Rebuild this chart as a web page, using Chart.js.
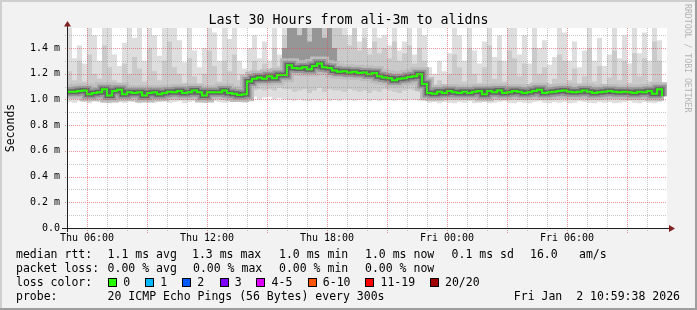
<!DOCTYPE html>
<html><head><meta charset="utf-8">
<script src="https://cdn.jsdelivr.net/npm/chart.js@4.4.1/dist/chart.umd.min.js"></script>
<style>
html,body{margin:0;padding:0;background:#f2f2f2;}
#wrap{position:relative;width:697px;height:310px;background:#f2f2f2;overflow:hidden;}
#c{position:absolute;left:0;top:0;}
.t{position:absolute;font-family:"DejaVu Sans Mono",monospace;font-size:11.5px;line-height:14px;color:#000;white-space:pre;}
.box{position:absolute;width:9px;height:9px;border:1px solid #000;box-sizing:border-box;top:278px;}
.fr{position:absolute;}
#wm{position:absolute;left:683px;top:4px;writing-mode:vertical-rl;font-family:"DejaVu Sans Mono",monospace;font-size:8.2px;line-height:10px;color:#b4b4b4;white-space:pre;}
</style>
</head><body>
<div id="wrap">
<canvas id="c" width="697" height="310"></canvas>
<div class="fr" style="left:0;top:0;width:697px;height:2px;background:#cfcfcf"></div>
<div class="fr" style="left:0;top:0;width:2px;height:310px;background:#cfcfcf"></div>
<div class="fr" style="left:695px;top:0;width:2px;height:310px;background:#9e9e9e"></div>
<div class="fr" style="left:0;top:308px;width:697px;height:2px;background:#9e9e9e"></div>
<div id="wm">RRDTOOL / TOBI OETIKER</div>

<div class="t" style="left:16px;top:247px">median rtt:</div>
<div class="t" style="left:107.6px;top:247px">1.1 ms avg</div>
<div class="t" style="left:192px;top:247px">1.3 ms max</div>
<div class="t" style="left:279px;top:247px">1.0 ms min</div>
<div class="t" style="left:365px;top:247px">1.0 ms now</div>
<div class="t" style="left:451.6px;top:247px">0.1 ms sd</div>
<div class="t" style="left:530px;top:247px">16.0</div>
<div class="t" style="left:579px;top:247px">am/s</div>

<div class="t" style="left:16px;top:261px">packet loss:</div>
<div class="t" style="left:107.6px;top:261px">0.00 % avg</div>
<div class="t" style="left:193px;top:261px">0.00 % max</div>
<div class="t" style="left:279px;top:261px">0.00 % min</div>
<div class="t" style="left:365px;top:261px">0.00 % now</div>

<div class="t" style="left:16px;top:275px">loss color:</div>
<div id="lossItems"></div>

<div class="t" style="left:16px;top:289px">probe:</div>
<div class="t" style="left:107.6px;top:289px">20 ICMP Echo Pings (56 Bytes) every 300s</div>
<div class="t" style="right:17px;top:289px">Fri Jan  2 10:59:38 2026</div>
</div>
<script>
// ---- data ----
const stepHours = 0.25; // one sample every 15 minutes, starting Thu 05:00
const tickHours = [1, 7, 13, 19, 25];
const tickLabels = ['Thu 06:00', 'Thu 12:00', 'Thu 18:00', 'Fri 00:00', 'Fri 06:00'];
const yTickLabels = ['0.0', '0.2 m', '0.4 m', '0.6 m', '0.8 m', '1.0 m', '1.2 m', '1.4 m'];

const median = [
 1.06, 1.06, 1.065, 1.07, 1.04, 1.05, 1.055, 1.08, 1.03, 1.065,
 1.075, 1.04, 1.055, 1.05, 1.055, 1.03, 1.05, 1.055, 1.04, 1.05,
 1.06, 1.055, 1.065, 1.05, 1.055, 1.07, 1.055, 1.03, 1.055, 1.055,
 1.055, 1.07, 1.05, 1.045, 1.035, 1.04, 1.14, 1.16, 1.17, 1.16,
 1.18, 1.165, 1.19, 1.19, 1.265, 1.245, 1.24, 1.25, 1.235, 1.26,
 1.28, 1.25, 1.245, 1.225, 1.215, 1.22, 1.21, 1.215, 1.205, 1.21,
 1.195, 1.205, 1.18, 1.17, 1.165, 1.15, 1.16, 1.165, 1.175, 1.18,
 1.195, 1.12, 1.05, 1.045, 1.06, 1.05, 1.065, 1.055, 1.05, 1.06,
 1.05, 1.06, 1.065, 1.04, 1.065, 1.055, 1.07, 1.05, 1.055, 1.065,
 1.06, 1.05, 1.055, 1.065, 1.075, 1.05, 1.055, 1.06, 1.065, 1.07,
 1.06, 1.055, 1.06, 1.07, 1.06, 1.05, 1.055, 1.06, 1.065, 1.06,
 1.055, 1.06, 1.055, 1.05, 1.06, 1.055, 1.065, 1.045, 1.08, 1.025
];
const smokeMax = [
 1.555, 1.32, 1.42, 1.28, 1.555, 1.5, 1.3, 1.555, 1.555, 1.35,
 1.26, 1.44, 1.555, 1.48, 1.555, 1.3, 1.555, 1.5, 1.34, 1.555,
 1.555, 1.555, 1.46, 1.29, 1.555, 1.38, 1.25, 1.4, 1.555, 1.52,
 1.3, 1.555, 1.47, 1.555, 1.3, 1.24, 1.4, 1.5, 1.32, 1.45,
 1.3, 1.555, 1.35, 1.555, 1.555, 1.555, 1.555, 1.555, 1.555, 1.555,
 1.555, 1.555, 1.555, 1.555, 1.555, 1.555, 1.5, 1.555, 1.45, 1.555,
 1.4, 1.555, 1.48, 1.5, 1.42, 1.555, 1.38, 1.45, 1.555, 1.35,
 1.555, 1.5, 1.25, 1.2, 1.3, 1.22, 1.36, 1.555, 1.5, 1.3,
 1.555, 1.38, 1.28, 1.45, 1.555, 1.33, 1.5, 1.3, 1.555, 1.555,
 1.35, 1.5, 1.28, 1.555, 1.4, 1.46, 1.27, 1.33, 1.555, 1.52,
 1.3, 1.45, 1.25, 1.38, 1.555, 1.3, 1.48, 1.26, 1.35, 1.555,
 1.32, 1.5, 1.28, 1.555, 1.36, 1.52, 1.3, 1.555, 1.46, 1.3
];
const smokeMin = [
 0.98, 0.975, 0.985, 0.98, 0.97, 0.985, 0.98, 0.975, 0.97, 0.985,
 0.98, 0.975, 0.985, 0.98, 0.97, 0.98, 0.985, 0.975, 0.98, 0.985,
 0.975, 0.98, 0.985, 0.97, 0.98, 0.985, 0.98, 0.975, 0.98, 0.985,
 0.98, 0.975, 0.98, 0.985, 0.98, 0.975, 1.01, 1.02, 1.0, 1.015,
 1.02, 1.0, 1.01, 1.0, 0.995, 0.99, 1.0, 0.99, 0.985, 0.995,
 0.99, 1.0, 0.99, 0.995, 0.99, 1.0, 0.995, 0.99, 0.995, 1.0,
 0.99, 0.995, 0.99, 1.0, 0.995, 0.99, 0.995, 0.99, 1.0, 0.995,
 0.99, 0.985, 0.975, 0.98, 0.97, 0.98, 0.975, 0.97, 0.98, 0.975,
 0.985, 0.97, 0.975, 0.98, 0.97, 0.975, 0.98, 0.985, 0.975, 0.97,
 0.98, 0.975, 0.97, 0.98, 0.985, 0.975, 0.97, 0.98, 0.975, 0.98,
 0.97, 0.975, 0.985, 0.98, 0.975, 0.97, 0.98, 0.975, 0.98, 0.97,
 0.975, 0.98, 0.985, 0.975, 0.97, 0.98, 0.975, 0.97, 0.98, 0.975
];
const smokeHigh = [
 1.22, 1.15, 1.3, 1.14, 1.35, 1.2, 1.16, 1.42, 1.25, 1.15,
 1.13, 1.28, 1.2, 1.33, 1.24, 1.14, 1.4, 1.22, 1.15, 1.3,
 1.45, 1.25, 1.2, 1.13, 1.32, 1.18, 1.12, 1.2, 1.38, 1.26,
 1.14, 1.3, 1.22, 1.35, 1.15, 1.12, 1.22, 1.3, 1.22, 1.28,
 1.24, 1.4, 1.26, 1.5, 1.555, 1.555, 1.555, 1.555, 1.555, 1.555,
 1.555, 1.555, 1.555, 1.555, 1.555, 1.5, 1.42, 1.555, 1.38, 1.48,
 1.35, 1.45, 1.36, 1.4, 1.32, 1.45, 1.3, 1.36, 1.42, 1.28,
 1.4, 1.3, 1.12, 1.1, 1.15, 1.11, 1.2, 1.35, 1.25, 1.14,
 1.4, 1.2, 1.13, 1.25, 1.42, 1.16, 1.3, 1.14, 1.38, 1.32,
 1.18, 1.28, 1.12, 1.4, 1.2, 1.25, 1.12, 1.16, 1.35, 1.3,
 1.15, 1.24, 1.12, 1.18, 1.4, 1.14, 1.26, 1.12, 1.17, 1.38,
 1.15, 1.3, 1.13, 1.36, 1.18, 1.32, 1.14, 1.45, 1.3, 1.15
];
const smokeLow = [
 1.01, 1.005, 1.015, 1.01, 1.0, 1.01, 1.015, 1.005, 1.0, 1.01,
 1.015, 1.005, 1.01, 1.01, 1.0, 1.005, 1.01, 1.015, 1.005, 1.01,
 1.0, 1.01, 1.015, 1.005, 1.01, 1.015, 1.01, 1.0, 1.01, 1.015,
 1.01, 1.005, 1.01, 1.015, 1.005, 1.0, 1.06, 1.07, 1.08, 1.07,
 1.08, 1.07, 1.09, 1.08, 1.08, 1.06, 1.07, 1.08, 1.05, 1.07,
 1.09, 1.06, 1.08, 1.07, 1.07, 1.06, 1.08, 1.07, 1.06, 1.07,
 1.05, 1.07, 1.06, 1.08, 1.07, 1.06, 1.05, 1.07, 1.08, 1.07,
 1.06, 1.04, 1.0, 1.005, 0.995, 1.0, 1.005, 1.0, 0.995, 1.005,
 1.0, 1.0, 0.995, 1.005, 1.0, 1.005, 1.0, 0.995, 1.0, 1.005,
 1.0, 1.0, 0.995, 1.005, 1.0, 1.0, 1.005, 0.995, 1.0, 1.005,
 1.0, 0.995, 1.0, 1.005, 1.0, 1.0, 0.995, 1.005, 1.0, 1.005,
 1.0, 0.995, 1.0, 1.0, 1.005, 1.0, 0.995, 1.005, 1.0, 0.99
];
// dark smoke reaching the top during the Thu afternoon period (samples 43..54)
const darkStart = 43;
const darkTop = [1.4, 1.555, 1.555, 1.5, 1.555, 1.45, 1.555, 1.555, 1.48, 1.555, 1.4, 1.3];

const lossLabels = ['0', '1', '2', '3', '4-5', '6-10', '11-19', '20/20'];
const lossColors = ['#26ff00', '#00b8ff', '#0059ff', '#7e00ff', '#dd00ff', '#ff5500', '#ff0000', '#a10000'];
const lossBoxX = [108, 145, 182, 219.6, 256.4, 307.6, 365.3, 429.8];

// ---- legend boxes ----
const li = document.getElementById('lossItems');
lossLabels.forEach((lab, k) => {
  const b = document.createElement('div');
  b.className = 'box'; b.style.left = lossBoxX[k] + 'px'; b.style.background = lossColors[k];
  li.appendChild(b);
  const t = document.createElement('div');
  t.className = 't'; t.style.left = (lossBoxX[k] + 15.2) + 'px'; t.style.top = '275px'; t.textContent = lab;
  li.appendChild(t);
});

// ---- chart ----
const pts = (arr, start = 0) => arr.map((v, i) => ({x: (i + start) * stepHours, y: v}));
const FONT = 'DejaVu Sans Mono';
Chart.defaults.font.family = FONT;
const GRID_MINOR = 'rgba(143,143,143,0.5)';
const GRID_MAJOR = 'rgba(222,79,79,0.6)';

const base = {pointRadius: 0, stepped: true, tension: 0, clip: 0, borderWidth: 0, borderColor: 'transparent', fill: false};

// white canvas + dotted RRD-style grid drawn at the library's tick positions
const gridPlugin = {
  id: 'rrdGrid',
  beforeDraw(chart) {
    const {ctx, chartArea: a} = chart;
    ctx.save();
    ctx.fillStyle = '#ffffff';
    ctx.fillRect(a.left, a.top, a.right - a.left, a.bottom - a.top);
    ctx.restore();
  },
  afterDatasetsDraw(chart) {
    const {ctx, chartArea: a, scales: {x, y}} = chart;
    const top = Math.round(a.top), bottom = Math.round(a.bottom);
    const left = Math.round(a.left), right = Math.round(a.right);
    ctx.save();
    x.ticks.forEach(t => {
      const h = Math.round(t.value);
      if (h <= 0 || h >= 30) return;
      const px = Math.round(x.getPixelForValue(t.value));
      const major = (h - 1) % 3 === 0;
      ctx.fillStyle = major ? GRID_MAJOR : GRID_MINOR;
      for (let yy = top; yy < bottom + (major ? 5 : 3); yy += 2) ctx.fillRect(px, yy, 1, 1);
    });
    y.ticks.forEach(t => {
      const k = Math.round(t.value * 10);
      if (k === 0) return;
      const py = Math.round(y.getPixelForValue(t.value));
      ctx.fillStyle = k % 2 ? GRID_MINOR : GRID_MAJOR;
      for (let xx = left - 2; xx < right; xx += 2) ctx.fillRect(xx, py, 1, 1);
    });
    ctx.restore();
  }
};

const axesPlugin = {
  id: 'rrdAxes',
  afterDraw(chart) {
    const {ctx, chartArea: a} = chart;
    ctx.save();
    ctx.strokeStyle = 'rgb(31,31,31)';
    ctx.lineWidth = 1;
    ctx.beginPath();
    ctx.moveTo(a.left - 5, a.bottom + 0.5);
    ctx.lineTo(a.right + 3, a.bottom + 0.5);
    ctx.moveTo(a.left + 0.5, a.bottom + 4);
    ctx.lineTo(a.left + 0.5, a.top - 3);
    ctx.stroke();
    ctx.fillStyle = 'rgb(128,31,31)';
    ctx.beginPath();
    ctx.moveTo(a.left + 0.5, a.top - 7);
    ctx.lineTo(a.left - 3, a.top - 1.5);
    ctx.lineTo(a.left + 4, a.top - 1.5);
    ctx.closePath(); ctx.fill();
    ctx.beginPath();
    ctx.moveTo(a.right + 8, a.bottom + 0.5);
    ctx.lineTo(a.right + 2, a.bottom - 3);
    ctx.lineTo(a.right + 2, a.bottom + 4);
    ctx.closePath(); ctx.fill();
    ctx.restore();
  }
};

new Chart(document.getElementById('c'), {
  type: 'line',
  data: {
    datasets: [
      Object.assign({}, base, {data: pts(median), borderColor: '#26ff00', borderWidth: 2}),
      Object.assign({}, base, {data: pts(median), borderColor: 'rgb(100,100,100)', borderWidth: 5}),
      Object.assign({}, base, {data: pts(median), borderColor: 'rgb(150,150,150)', borderWidth: 9}),
      Object.assign({}, base, {data: pts(median), borderColor: 'rgb(188,188,188)', borderWidth: 14}),
      Object.assign({}, base, {data: pts(darkTop, darkStart), fill: 3, backgroundColor: 'rgb(150,150,150)'}),
      Object.assign({}, base, {data: pts(smokeHigh), fill: 6, backgroundColor: 'rgb(202,202,202)'}),
      Object.assign({}, base, {data: pts(smokeLow)}),
      Object.assign({}, base, {data: pts(smokeMax), fill: 8, backgroundColor: 'rgb(222,222,222)'}),
      Object.assign({}, base, {data: pts(smokeMin)})
    ]
  },
  options: {
    responsive: false,
    animation: false,
    devicePixelRatio: 1,
    layout: {padding: 0},
    plugins: {
      legend: {display: false},
      tooltip: {enabled: false},
      title: {display: true, text: 'Last 30 Hours from ali-3m to alidns', color: '#000',
        font: {family: FONT, size: 13.3, weight: 'normal', lineHeight: '16px'}, padding: {top: 12.5, bottom: -0.5}}
    },
    scales: {
      x: {
        type: 'linear', min: 0, max: 30,
        afterFit: s => { s.height = 82; },
        ticks: {stepSize: 1, autoSkip: false, maxRotation: 0, minRotation: 0, padding: 4, color: '#000',
          font: {family: FONT, size: 10},
          callback: v => { const k = tickHours.indexOf(Math.round(v)); return k >= 0 ? tickLabels[k] : ''; }},
        grid: {display: false, drawTicks: false},
        border: {display: false}
      },
      y: {
        type: 'linear', min: 0, max: 1.5556,
        afterFit: s => { s.width = 67; },
        ticks: {stepSize: 0.1, autoSkip: false, includeBounds: false, padding: 7, color: '#000',
          font: {family: FONT, size: 10},
          callback: v => { const k = Math.round(v * 10); return k % 2 ? '' : yTickLabels[k / 2]; }},
        grid: {display: false, drawTicks: false},
        border: {display: false},
        title: {display: true, text: 'Seconds', color: '#000', font: {family: FONT, size: 11.5}, padding: {top: 4, bottom: 0}}
      },
      yR: {
        type: 'linear', position: 'right', display: true,
        afterFit: s => { s.width = 30; },
        ticks: {display: false}, grid: {display: false, drawTicks: false}, border: {display: false}
      }
    }
  },
  plugins: [gridPlugin, axesPlugin]
});
</script>
</body></html>
